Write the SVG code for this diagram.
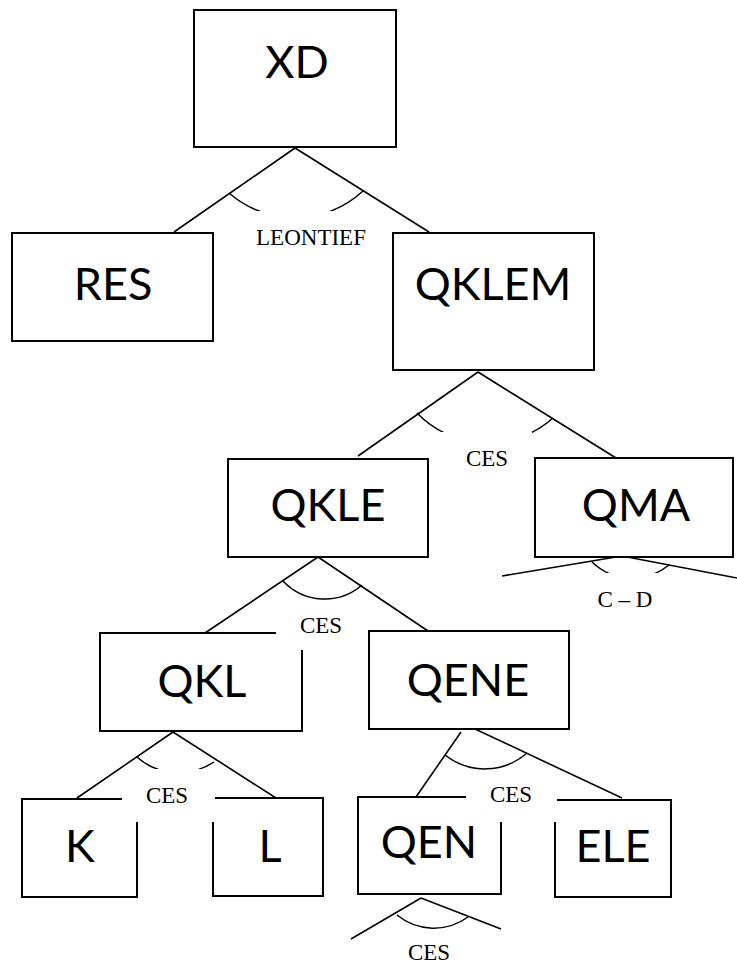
<svg xmlns="http://www.w3.org/2000/svg" width="737" height="965" viewBox="0 0 737 965">
<style>
.box{fill:#fff;stroke:#000;stroke-width:2}
.nt{font-family:Lato,"Open Sans","Liberation Sans",sans-serif;font-size:45px;text-anchor:middle;fill:#000}
.ln{fill:none;stroke:#000;stroke-width:1.6}
.arc{fill:none;stroke:#000;stroke-width:1.5}
.lt{font-family:"Liberation Serif","Times New Roman",serif;font-size:23px;text-anchor:middle;fill:#000}
.bg{fill:#fff;stroke:none}
</style>
<rect width="737" height="965" fill="#fff"/>
<g id="connectors">
  <path class="ln" d="M295,148 L174,232 M295,148 L429,232"/>
  <path class="arc" d="M229,193 A101,101 0 0,0 363,191"/>
  <path class="ln" d="M478,372 L358,456 M478,372 L616,458"/>
  <path class="arc" d="M417,413 A98,98 0 0,0 553,418"/>
  <path class="ln" d="M622,556 L502,576 M622,556 L737,578"/>
  <path class="arc" d="M592,562 A58,58 0 0,0 669,565"/>
  <path class="ln" d="M318,557 L205,633 M318,557 L428,631"/>
  <path class="arc" d="M283,581 A57,57 0 0,0 362,585"/>
  <path class="ln" d="M173,732 L77,798 M173,732 L276,798"/>
  <path class="arc" d="M137,757 A63,63 0 0,0 214,762"/>
  <path class="ln" d="M461,732 L416,797 M475,729 L622,798"/>
  <path class="arc" d="M445,755 A64,64 0 0,0 527,753"/>
  <path class="ln" d="M421,898 L351,939 M421,898 L501,929"/>
  <path class="arc" d="M397,915 A58,58 0 0,0 468,917"/>
</g>
<g id="nodes">
  <g id="XD"><rect class="box" x="194" y="10" width="202" height="137"/><text class="nt" x="297" y="78">XD</text></g>
  <g id="RES"><rect class="box" x="12" y="233" width="201" height="108"/><text class="nt" x="113" y="300">RES</text></g>
  <g id="QKLEM"><rect class="box" x="393" y="233" width="201" height="137"/><text class="nt" x="493" y="300">QKLEM</text></g>
  <g id="QKLE"><rect class="box" x="228" y="459" width="200" height="98"/><text class="nt" x="328" y="521">QKLE</text></g>
  <g id="QMA"><rect class="box" x="535" y="458" width="198" height="99"/><text class="nt" x="636" y="521">QMA</text></g>
  <g id="QKL"><rect class="box" x="100" y="633" width="202" height="98"/><text class="nt" x="202" y="697">QKL</text></g>
  <g id="QENE"><rect class="box" x="369" y="631" width="200" height="98"/><text class="nt" x="468" y="696">QENE</text></g>
  <g id="K"><rect class="box" x="22" y="799" width="115" height="98"/><text class="nt" x="80" y="862">K</text></g>
  <g id="L"><rect class="box" x="213" y="798" width="110" height="98"/><text class="nt" x="270" y="862">L</text></g>
  <g id="QEN"><rect class="box" x="358" y="797" width="143" height="97"/><text class="nt" x="429" y="858">QEN</text></g>
  <g id="ELE"><rect class="box" x="555" y="800" width="116" height="97"/><text class="nt" x="613" y="862">ELE</text></g>
</g>
<g id="labels">
  <g><rect class="bg" x="258" y="211" width="79" height="41"/><text class="lt" x="311" y="245">LEONTIEF</text></g>
  <g><rect class="bg" x="440" y="432" width="92" height="40"/><text class="lt" x="487" y="466">CES</text></g>
  <g><rect class="bg" x="606" y="573" width="55" height="40"/><text class="lt" x="625" y="607">C – D</text></g>
  <g><rect class="bg" x="276" y="601" width="91" height="49"/><text class="lt" x="321" y="633">CES</text></g>
  <g><rect class="bg" x="122" y="769" width="93" height="53"/><text class="lt" x="167" y="803">CES</text></g>
  <g><rect class="bg" x="466" y="770" width="91" height="52"/><text class="lt" x="511" y="802">CES</text></g>
  <g><text class="lt" x="429" y="960">CES</text></g>
</g>
</svg>
